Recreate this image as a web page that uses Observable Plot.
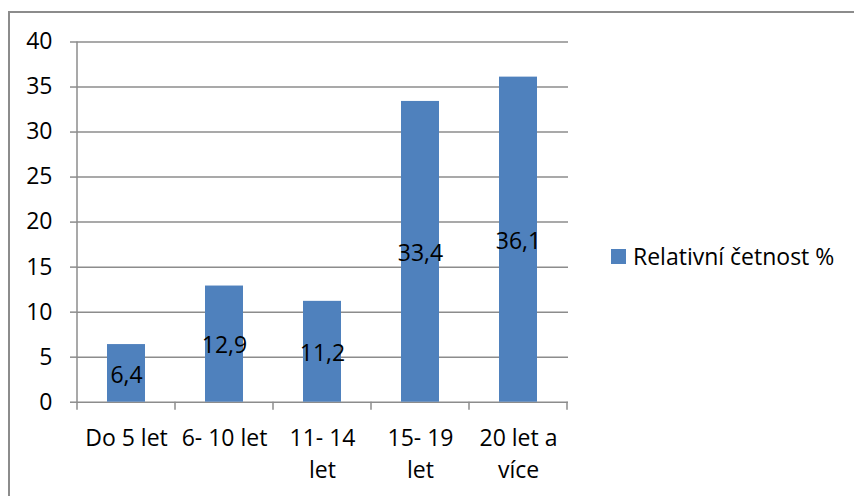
<!DOCTYPE html>
<html>
<head>
<meta charset="utf-8">
<script src="https://cdn.jsdelivr.net/npm/d3@7"></script>
<script src="https://cdn.jsdelivr.net/npm/@observablehq/plot@0.6"></script>
<style>
  html, body { margin: 0; padding: 0; background: #fff; }
  body { width: 854px; height: 496px; overflow: hidden; position: relative; font-family: "Open Sans", "Noto Sans", sans-serif; }
  #frame { position: absolute; left: 8px; top: 11px; width: 900px; height: 600px; border-left: 2px solid #8c8c8c; border-top: 2px solid #8c8c8c; box-sizing: border-box; }
  #chart { position: absolute; left: 0; top: 0; }
  #legend { position: absolute; left: 611px; top: 240px; display: flex; align-items: center; gap: 7px; font-size: 23px; color: #000; }
  #legend .swatch { width: 15px; height: 15px; background: #4F81BD; }
</style>
</head>
<body>
<div id="frame"></div>
<div id="chart"></div>
<div id="legend"><span class="swatch"></span><span id="legend-label"></span></div>
<script>
// Délka praxe – relativní četnost v procentech
const categories = ["Do 5 let", "6- 10 let", "11- 14 let", "15- 19 let", "20 let a více"];
const tickLabels = ["Do 5 let", "6- 10 let", "11- 14\nlet", "15- 19\nlet", "20 let a\nvíce"];
const values = [6.4, 12.9, 11.2, 33.4, 36.1];
const yTicks = [0, 5, 10, 15, 20, 25, 30, 35, 40];
const seriesName = "Relativní četnost %";

const barColor = "#4F81BD";
const lineColor = "#8c8c8c";
const fontSize = 23;

const rows = categories.map((c, i) => ({category: c, value: values[i]}));
const labelOf = new Map(categories.map((c, i) => [c, tickLabels[i]]));
const czNumber = v => d3.format(".1f")(v).replace(".", ",");

// Axis line on the left and category separator ticks below the baseline
function categoryTicks(index, scales, values_, dimensions) {
  const {height, marginLeft, marginBottom, marginTop} = dimensions;
  const x = scales.x;
  const step = x.step();
  const half = x.bandwidth() / 2;
  const y0 = height - marginBottom;
  const g = d3.create("svg:g").attr("stroke", lineColor).attr("stroke-width", 1.5);
  g.append("line")
    .attr("x1", marginLeft).attr("x2", marginLeft)
    .attr("y1", marginTop).attr("y2", y0 + 8);
  categories.forEach(c => {
    const cx = x(c) + half;
    g.append("line").attr("x1", cx + step / 2).attr("x2", cx + step / 2).attr("y1", y0).attr("y2", y0 + 8);
  });
  return g.node();
}

const chart = Plot.plot({
  width: 854,
  height: 496,
  marginLeft: 77,
  marginRight: 286,
  marginTop: 41.5,
  marginBottom: 94.3,
  style: {fontFamily: '"Open Sans", "Noto Sans", sans-serif', fontSize: fontSize + "px", color: "#000", background: "transparent", overflow: "visible"},
  x: {domain: categories, paddingInner: 0.61, paddingOuter: 0.305, label: null},
  y: {domain: [0, 40], label: null},
  marks: [
    Plot.gridY(yTicks, {stroke: lineColor, strokeOpacity: 1, strokeWidth: 1.5}),
    Plot.axisY({ticks: yTicks, tickSize: 7, tickPadding: 18, stroke: lineColor, strokeWidth: 1.5, strokeOpacity: 1, fontSize, fill: "#000", label: null}),
    Plot.axisX({tickSize: 0, tickPadding: 20, tickFormat: c => labelOf.get(c), lineHeight: 1.43, fontSize, fill: "#000", label: null}),
    Plot.barY(rows, {x: "category", y: "value", fill: barColor}),
    categoryTicks,
    Plot.text(rows, {x: "category", y: d => d.value / 2, text: d => czNumber(d.value), fontSize, fill: "#000", dy: 2})
  ]
});

document.getElementById("chart").appendChild(chart);
document.getElementById("legend-label").textContent = seriesName;
</script>
</body>
</html>
